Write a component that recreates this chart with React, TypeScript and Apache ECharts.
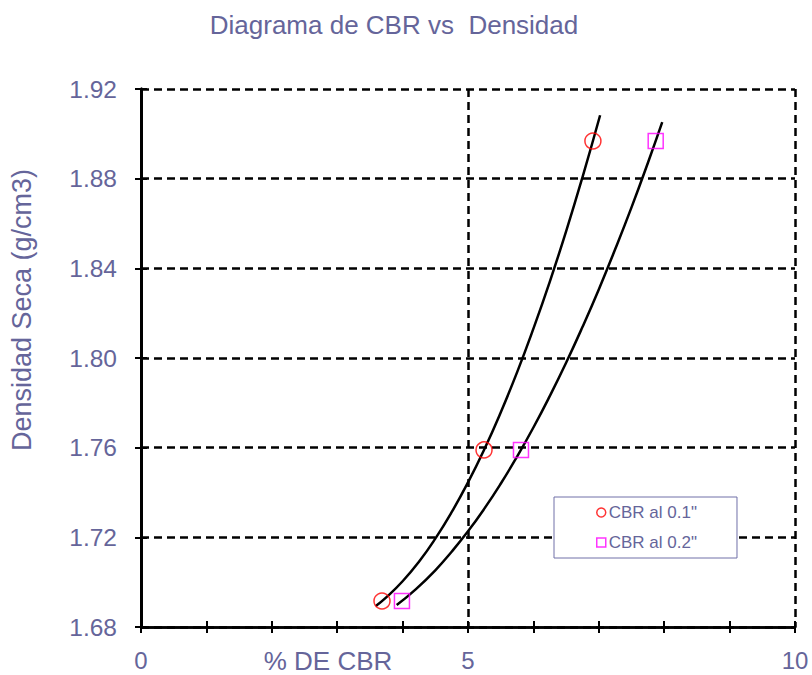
import React, { useEffect, useRef } from "react";
import * as echarts from "echarts";

const titleText = "Diagrama de CBR vs  Densidad";
const xName = "% DE CBR";
const yName = "Densidad Seca (g/cm3)";
const seriesNames = ['CBR al 0.1"', 'CBR al 0.2"'];

// measured points
const density = [1.6916, 1.759, 1.8968];
const cbr01 = [3.685, 5.245, 6.91];
const cbr02 = [3.99, 5.81, 7.87];

// trend curves
const trend01X = [3.59, 3.75, 4.0, 4.25, 4.5, 4.75, 5.0, 5.25, 5.5, 5.75, 6.0, 6.25, 6.5, 6.75, 7.02];
const trend01Y = [1.6894, 1.6932, 1.7004, 1.7091, 1.7194, 1.7312, 1.7445, 1.7593, 1.7757, 1.7936, 1.8131, 1.834, 1.8565, 1.8806, 1.9083];
const trend02X = [3.91, 4.2, 4.5, 4.75, 5.0, 5.25, 5.5, 5.75, 6.0, 6.25, 6.5, 6.75, 7.0, 7.25, 7.5, 7.75, 7.97];
const trend02Y = [1.6898, 1.6968, 1.7053, 1.7136, 1.7227, 1.7328, 1.7439, 1.756, 1.769, 1.783, 1.7979, 1.8138, 1.8306, 1.8485, 1.8672, 1.887, 1.9052];

const FONT = "Liberation Sans, Arial, sans-serif";
const TXT = "#65659a";

export default function App() {
  const ref = useRef<HTMLDivElement>(null);
  useEffect(() => {
    if (!ref.current) return;
    const chart = echarts.init(ref.current, undefined, { renderer: "svg" });
    const dash = { color: "#000", width: 2.5, type: [8, 5] as any };
    const baseX = {
      type: "value",
      min: 0,
      max: 10,
      interval: 5,
      axisLine: { show: true, onZero: false, lineStyle: { color: "#000", width: 2.5 } },
    };
    const baseY = {
      type: "value",
      min: 1.68,
      max: 1.92,
      interval: 0.04,
      axisLine: { show: true, onZero: false, lineStyle: { color: "#000", width: 3 } },
    };
    chart.setOption({
      animation: false,
      backgroundColor: "#fff",
      textStyle: { fontFamily: FONT },
      grid: { left: 141, right: 17, top: 89, bottom: 48, containLabel: false },
      xAxis: [
        {
          ...baseX,
          axisTick: { show: true, inside: false, length: 6, lineStyle: { color: "#000", width: 2 } },
          minorTick: { show: true, splitNumber: 5, length: 6, lineStyle: { color: "#000", width: 2 } },
          axisLabel: { show: true, color: TXT, fontSize: 24, fontFamily: FONT, margin: 21 },
          splitLine: { show: true, lineStyle: dash },
        },
        {
          ...baseX,
          position: "bottom",
          axisTick: { show: true, inside: true, length: 6, lineStyle: { color: "#000", width: 2 } },
          minorTick: { show: true, splitNumber: 5, length: 6, lineStyle: { color: "#000", width: 2 } },
          axisLabel: { show: false },
          splitLine: { show: false },
        },
      ],
      yAxis: [
        {
          ...baseY,
          axisTick: { show: true, inside: false, length: 6, lineStyle: { color: "#000", width: 2 } },
          axisLabel: {
            show: true,
            color: TXT,
            fontSize: 24.5,
            fontFamily: FONT,
            margin: 24,
            formatter: (v: number) => v.toFixed(2),
          },
          splitLine: { show: true, lineStyle: dash },
        },
        {
          ...baseY,
          position: "left",
          axisTick: { show: true, inside: true, length: 6, lineStyle: { color: "#000", width: 2 } },
          axisLabel: { show: false },
          splitLine: { show: false },
        },
      ],
      legend: {
        orient: "vertical",
        left: 554,
        top: 497,
        padding: [7, 40, 7, 42],
        itemGap: 13,
        itemWidth: 9,
        itemHeight: 9,
        backgroundColor: "#fff",
        borderColor: "#7070a8",
        borderWidth: 1,
        borderRadius: 0,
        textStyle: { color: TXT, fontSize: 17, fontFamily: FONT, padding: [0, 0, 0, -2] },
        data: [
          {
            name: seriesNames[0],
            icon: "circle",
            itemStyle: { color: "#fff", borderColor: "#ff0000", borderWidth: 1.5 },
          },
          {
            name: seriesNames[1],
            icon: "rect",
            itemStyle: { color: "#fff", borderColor: "#ff00ff", borderWidth: 1.5 },
          },
        ],
      },
      series: [
        {
          name: "trend1",
          type: "line",
          smooth: true,
          showSymbol: false,
          symbol: "none",
          data: trend01X.map((x, i) => [x, trend01Y[i]]),
          lineStyle: { color: "#000", width: 2.5 },
          z: 3,
        },
        {
          name: "trend2",
          type: "line",
          smooth: true,
          showSymbol: false,
          symbol: "none",
          data: trend02X.map((x, i) => [x, trend02Y[i]]),
          lineStyle: { color: "#000", width: 2.5 },
          z: 3,
        },
        {
          name: seriesNames[0],
          type: "scatter",
          symbol: "circle",
          symbolSize: 16,
          data: cbr01.map((x, i) => [x, density[i]]),
          itemStyle: { color: "rgba(0,0,0,0)", borderColor: "#ff0000", borderWidth: 1.5 },
          z: 4,
        },
        {
          name: seriesNames[1],
          type: "scatter",
          symbol: "rect",
          symbolSize: 15,
          data: cbr02.map((x, i) => [x, density[i]]),
          itemStyle: { color: "rgba(0,0,0,0)", borderColor: "#ff00ff", borderWidth: 1.5 },
          z: 4,
        },
      ],
      graphic: [
        {
          type: "text",
          x: 394,
          y: 25,
          style: {
            text: titleText,
            fill: TXT,
            font: `26px ${FONT}`,
            textAlign: "center",
            textVerticalAlign: "middle",
          },
        },
        {
          type: "text",
          x: 328,
          y: 661,
          style: {
            text: xName,
            fill: TXT,
            font: `26px ${FONT}`,
            textAlign: "center",
            textVerticalAlign: "middle",
          },
        },
        {
          type: "text",
          x: 22,
          y: 310,
          rotation: Math.PI / 2,
          style: {
            text: yName,
            fill: TXT,
            font: `27px ${FONT}`,
            textAlign: "center",
            textVerticalAlign: "middle",
          },
        },
      ],
    });
    return () => chart.dispose();
  }, []);
  return (
    <div
      ref={ref}
      style={{ position: "fixed", left: 0, top: 0, width: 812, height: 675, background: "#fff" }}
    />
  );
}
